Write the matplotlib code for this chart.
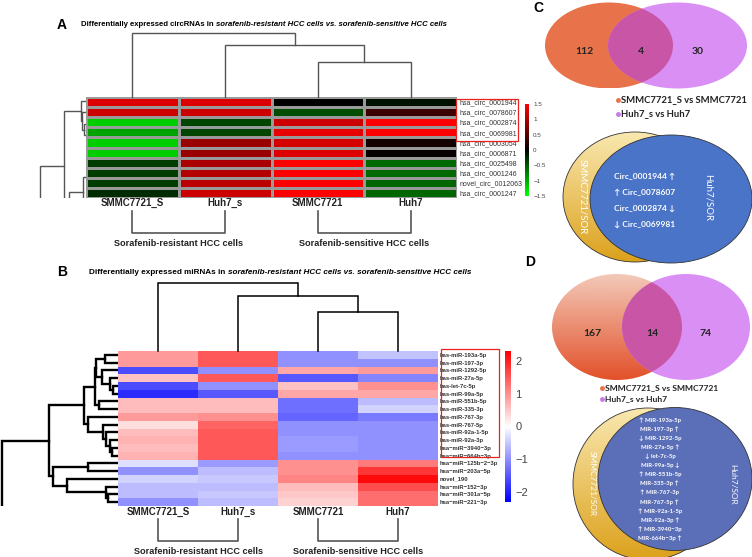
import numpy as np
import matplotlib.pyplot as plt
from matplotlib.colors import LinearSegmentedColormap, to_rgb
from matplotlib.patches import Ellipse, Rectangle

plt.rcParams['font.family'] = ['Liberation Sans', 'DejaVu Sans']

# ---------------- data ----------------
samples = ['SMMC7721_S', 'Huh7_s', 'SMMC7721', 'Huh7']
groups = ['Sorafenib-resistant HCC cells', 'Sorafenib-sensitive HCC cells']

circ_names = ['hsa_circ_0001944', 'hsa_circ_0078607', 'hsa_circ_0002874', 'hsa_circ_0069981',
              'hsa_circ_0003054', 'hsa_circ_0006871', 'hsa_circ_0025498', 'hsa_circ_0001246',
              'novel_circ_0012063', 'hsa_circ_0001247']
circ_vals = np.array([
    [1.30, 1.30, 0.00, -0.10],
    [1.20, 1.20, -0.45, 0.35],
    [-1.20, -0.40, 1.20, 1.50],
    [-0.95, -0.40, 1.35, 1.50],
    [-1.20, 0.90, 1.25, 0.12],
    [-1.20, 0.90, 1.30, 0.04],
    [-0.35, 1.00, 1.50, -0.62],
    [-0.35, 1.05, 1.50, -0.62],
    [-0.35, 1.10, 1.50, -0.60],
    [-0.25, 1.20, 1.50, -0.60],
])

mir_names = ['has-miR-193a-5p', 'has-miR-197-3p', 'has-miR-1292-5p', 'has-miR-27a-5p',
             'has-let-7c-5p', 'has-miR-99a-5p', 'has-miR-551b-5p', 'has-miR-335-3p',
             'has-miR-767-3p', 'has-miR-767-5p', 'has-miR-92a-1-5p', 'has-miR-92a-3p',
             'hsa\u2212miR\u22123940\u22123p', 'hsa\u2212miR\u2212664b\u22123p',
             'hsa\u2212miR\u2212125b\u22122\u22123p', 'hsa\u2212miR\u2212203a\u22125p', 'novel_190',
             'hsa\u2212miR\u2212152\u22123p', 'hsa\u2212miR\u2212301a\u22125p', 'hsa\u2212miR\u2212221\u22123p']
mir_vals = np.array([
    [0.90, 1.50, -1.00, -0.55],
    [0.90, 1.50, -1.00, -1.00],
    [-1.60, -1.00, 0.80, 0.90],
    [0.55, 1.50, -1.50, -1.10],
    [-1.60, -1.00, 0.55, 1.00],
    [-1.90, -1.50, 0.80, 0.80],
    [0.60, 0.60, -1.30, -0.60],
    [0.60, 0.60, -1.30, -0.40],
    [0.90, 1.00, -1.40, -1.20],
    [0.30, 1.40, -1.00, -1.00],
    [0.60, 1.50, -1.00, -1.00],
    [0.70, 1.50, -0.90, -1.00],
    [0.60, 1.50, -0.90, -1.00],
    [0.70, 1.50, -1.00, -1.00],
    [-0.30, -0.90, 1.00, 1.20],
    [-1.00, -0.60, 1.00, 1.80],
    [-0.40, -0.50, 1.10, 2.20],
    [-0.60, -0.60, 0.60, 1.60],
    [-0.60, -0.50, 0.50, 1.30],
    [-1.00, -0.60, 0.40, 1.30],
])

# dendrograms: (child_a, child_b, height); ids >= n_leaves refer to earlier merges
circ_col_tree = [(2, 3, 35), (1, 4, 52), (0, 5, 64)]
circ_row_tree = [(2, 3, 2), (1, 10, 4), (0, 11, 5), (4, 5, 3), (6, 7, 2), (13, 14, 17),
                 (12, 15, 22), (8, 9, 2), (16, 17, 46)]
mir_col_tree = [(2, 3, 39), (1, 4, 55), (0, 5, 68)]
mir_row_tree = [(0, 1, 13), (4, 5, 5), (3, 21, 8), (2, 22, 16), (20, 23, 22), (6, 7, 19),
                (24, 25, 23), (12, 13, 6), (11, 27, 8), (10, 28, 12), (9, 29, 15), (8, 30, 30),
                (26, 31, 34), (14, 15, 30), (18, 19, 10), (17, 34, 12), (16, 35, 51),
                (33, 36, 65), (32, 37, 69)]

venn_c = [112, 4, 30]
venn_d = [167, 14, 74]
legend_labels = ['SMMC7721_S vs SMMC7721', 'Huh7_s vs Huh7']
circ_common = [('Circ_0001944', 'up', 'r'), ('Circ_0078607', 'up', 'l'),
               ('Circ_0002874', 'down', 'r'), ('Circ_0069981', 'down', 'l')]
mir_common = [('MiR-193a-5p', 'up', 'l'), ('MiR-197-3p', 'up', 'r'), ('MiR-1292-5p', 'down', 'l'),
              ('MiR-27a-5p', 'up', 'r'), ('let-7c-5p', 'down', 'l'), ('MiR-99a-5p', 'down', 'r'),
              ('MiR-551b-5p', 'up', 'l'), ('MiR-335-3p', 'up', 'r'), ('MiR-767-3p', 'up', 'l'),
              ('MiR-767-5p', 'up', 'r'), ('MiR-92a-1-5p', 'up', 'l'), ('MiR-92a-3p', 'up', 'r'),
              ('MiR-3940\u22123p', 'up', 'l'), ('MiR-664b\u22123p', 'up', 'r')]

# ---------------- figure ----------------
W, H = 752, 557
fig = plt.figure(figsize=(W / 100, H / 100), dpi=100)


def px_axes(x0, y0, x1, y1, **kw):
    return fig.add_axes([x0 / W, 1 - y1 / H, (x1 - x0) / W, (y1 - y0) / H], **kw)


def px_canvas(x0, y0, x1, y1, **kw):
    a = px_axes(x0, y0, x1, y1, **kw)
    a.set_xlim(x0, x1)
    a.set_ylim(y1, y0)
    a.axis('off')
    a.patch.set_alpha(0)
    return a


ov = px_canvas(0, 0, W, H, zorder=5)
rend = fig.canvas.get_renderer()


def dendro(leaf_pos, merges):
    pos = list(leaf_pos)
    hts = [0.0] * len(leaf_pos)
    segs = []
    for a, b, h in merges:
        segs.append([(hts[a], pos[a]), (h, pos[a]), (h, pos[b]), (hts[b], pos[b])])
        pos.append((pos[a] + pos[b]) / 2)
        hts.append(h)
    return segs, pos[-1], hts[-1]


def mixed_text(x, y, parts, size):
    for s, style in parts:
        t = ov.text(x, y, s, fontsize=size, fontweight='bold', fontstyle=style,
                    va='center', ha='left')
        x += t.get_window_extent(renderer=rend).width


def heat_panel(box, vals, names, cmap, vmin, vmax, grid, label_size, label_weight):
    x0, y0, x1, y1 = box
    nr, nc = vals.shape
    ax = px_axes(x0, y0, x1, y1)
    if grid:
        ax.pcolormesh(vals, cmap=cmap, vmin=vmin, vmax=vmax, edgecolors='#9a9a9a', linewidth=0.9)
    else:
        ax.pcolormesh(vals, cmap=cmap, vmin=vmin, vmax=vmax)
    ax.set_xlim(0, nc)
    ax.set_ylim(nr, 0)
    ax.set_xticks([])
    ax.yaxis.tick_right()
    ax.set_yticks(np.arange(nr) + 0.5)
    ax.set_yticklabels(names, fontsize=label_size, fontweight=label_weight, color='#333333')
    ax.tick_params(axis='y', length=0, pad=1.5)
    for s in ax.spines.values():
        s.set_visible(False)
    col_c = [x0 + (i + 0.5) * (x1 - x0) / nc for i in range(nc)]
    row_c = [y0 + (i + 0.5) * (y1 - y0) / nr for i in range(nr)]
    return col_c, row_c


def col_dendro(col_c, tree, y0, color, lw):
    segs, _, _ = dendro(col_c, tree)
    for sg in segs:
        ov.plot([p[1] for p in sg], [y0 - p[0] for p in sg], color=color, lw=lw,
                solid_joinstyle='miter')


def row_dendro(leaf_y, tree, x0, y0, y1, color, lw, stub_x):
    dax = px_canvas(0, y0, x0, y1, zorder=4)
    segs, ry, rh = dendro(leaf_y, tree)
    for sg in segs:
        dax.plot([x0 - p[0] for p in sg], [p[1] for p in sg], color=color, lw=lw,
                 solid_joinstyle='miter')
    dax.plot([x0 - rh, stub_x, stub_x], [ry, ry, H], color=color, lw=lw,
             solid_joinstyle='miter')


def colorbar(box, cmap, vmin, vmax, ticks, labels, size):
    cax = px_axes(*box)
    cax.imshow(np.linspace(vmax, vmin, 256)[:, None], cmap=cmap, aspect='auto',
               extent=(0, 1, vmin, vmax))
    cax.set_xticks([])
    cax.yaxis.tick_right()
    cax.set_yticks(ticks)
    cax.set_yticklabels(labels, fontsize=size, color='#444444')
    cax.tick_params(axis='y', length=0, pad=3)
    for s in cax.spines.values():
        s.set_visible(False)


def brackets(col_c, y_top, y_bot, y_txt, size):
    for g, (a, b) in enumerate([(0, 1), (2, 3)]):
        ov.plot([col_c[a], col_c[a], col_c[b], col_c[b]], [y_top, y_bot, y_bot, y_top],
                color='#555555', lw=1.2)
        ov.text((col_c[a] + col_c[b]) / 2, y_txt, groups[g], fontsize=size,
                fontweight='bold', ha='center', va='center', color='#222222')


# ---------------- panel A ----------------
ov.text(62, 25, 'A', fontsize=10, fontweight='bold', ha='center', va='center')
mixed_text(81, 24, [('Differentially expressed circRNAs in ', 'normal'),
                    ('sorafenib-resistant HCC cells vs. sorafenib-sensitive HCC cells', 'italic')], 5.6)
gkr = LinearSegmentedColormap.from_list('gkr', ['#00ff00', '#000000', '#ff0000'])
boxA = (86, 97, 457, 198)
colA, rowA = heat_panel(boxA, circ_vals, circ_names, gkr, -1.5, 1.5, True, 5, 'normal')
col_dendro(colA, circ_col_tree, 97, '#555555', 1.0)
# the row tree of panel A is drawn stretched and cut at the heatmap bottom, as in the source
leafA = [101, 112, 124, 135, 177, 207, 237, 267, 297, 327]
row_dendro(leafA, circ_row_tree, 86, 97, 198, '#555555', 1.0, 40)
for i, s in enumerate(samples):
    ov.text(colA[i], 203, s, fontsize=7, fontweight='bold', ha='center', va='center',
            color='#222222')
brackets(colA, 211, 233, 244, 6.6)
ov.add_patch(Rectangle((456, 99), 62, 42, fill=False, ec='#e8231f', lw=0.9))
colorbar((525, 104, 529, 196), gkr, -1.5, 1.5, [1.5, 1, 0.5, 0, -0.5, -1, -1.5],
         ['1.5', '1', '0.5', '0', '\u22120.5', '\u22121', '\u22121.5'], 4.5)

# ---------------- panel B ----------------
ov.text(62, 272, 'B', fontsize=10, fontweight='bold', ha='center', va='center')
mixed_text(89, 273, [('Differentially expressed miRNAs in ', 'normal'),
                     ('sorafenib-resistant HCC cells vs. sorafenib-sensitive HCC cells', 'italic')], 5.9)
bwr = LinearSegmentedColormap.from_list('bw', ['#0000ff', '#ffffff', '#ff0000'])
boxB = (118, 351, 438, 506)
colB, rowB = heat_panel(boxB, mir_vals, mir_names, bwr, -2.3, 2.3, False, 4.2, 'bold')
col_dendro(colB, mir_col_tree, 351, '#000000', 1.1)
row_dendro(rowB, mir_row_tree, 118, 351, 506, '#000000', 1.7, 2)
for i, s in enumerate(samples):
    ov.text(colB[i], 512, s, fontsize=7, fontweight='bold', ha='center', va='center',
            color='#222222')
brackets(colB, 519, 541, 551, 6.6)
ov.add_patch(Rectangle((441, 349), 58, 108, fill=False, ec='#e8231f', lw=0.9))
colorbar((505, 351, 511, 502), bwr, -2.3, 2.3, [2, 1, 0, -1, -2],
         ['2', '1', '0', '\u22121', '\u22122'], 8)

# ---------------- Venn diagrams ----------------
vfont = ['Lato', 'DejaVu Sans']


def gradient_ellipse(cx, cy, w, h, top, bottom, ec=None, z=1):
    e = Ellipse((cx, cy), w, h, fc='none', ec=ec if ec else 'none', lw=0.6, zorder=z + 0.5)
    ov.add_patch(e)
    c0, c1 = np.array(to_rgb(top)), np.array(to_rgb(bottom))
    t = np.linspace(0, 1, 200)[:, None, None]
    img = c0 * (1 - t) + c1 * t
    im = ov.imshow(img, extent=(cx - w / 2, cx + w / 2, cy + h / 2, cy - h / 2),
                   aspect='auto', zorder=z, interpolation='bilinear')
    im.set_clip_path(e)
    return e


def venn_top(left, right, counts, left_top, left_bot):
    el = gradient_ellipse(*left, left_top, left_bot, z=1)
    ov.add_patch(Ellipse(right[:2], right[2], right[3], fc='#da8ff5', ec='none', zorder=2))
    mid = Ellipse(right[:2], right[2], right[3], fc='#c955a6', ec='none', zorder=3)
    ov.add_patch(mid)
    mid.set_clip_path(el)
    xs = [left[0] - 25, (left[0] + left[2] / 2 + right[0] - right[2] / 2) / 2, right[0] + 20]
    for x, c in zip(xs, counts):
        ov.text(x, left[1] + 6, str(c), fontsize=7.5, fontweight='bold', ha='center',
                va='center', family=vfont, color='#222222', zorder=4)


def venn_legend(x, y, dy, size):
    for k, (lab, col) in enumerate(zip(legend_labels, ['#e8734b', '#c77be6'])):
        ov.plot(x, y + dy * k, 'o', ms=2.5, color=col)
        ov.text(x + 3, y + dy * k, lab, fontsize=size, fontweight='bold', family=vfont,
                ha='left', va='center', color='#222222')


def venn_bottom(gold, blue, bcol, items, xc, y0, dy, size, lx, rx, tsize):
    gradient_ellipse(*gold, '#f9e8b0', '#dca11c', ec='#333333', z=1)
    ov.add_patch(Ellipse(blue[:2], blue[2], blue[3], fc=bcol, ec='#333333', lw=0.6, zorder=3))
    ov.text(lx, gold[1], 'SMMC7721/SOR', rotation=-90, color='white', fontsize=tsize,
            family=vfont, ha='center', va='center', zorder=4)
    ov.text(rx, gold[1], 'Huh7/SOR', rotation=-90, color='white', fontsize=tsize,
            family=vfont, ha='center', va='center', zorder=4)
    for i, (name, d, side) in enumerate(items):
        arr = '\u2191' if d == 'up' else '\u2193'
        s = arr + ' ' + name if side == 'l' else name + ' ' + arr
        ov.text(xc, y0 + i * dy, s, color='white', fontsize=size, fontweight='bold',
                family=vfont, ha='center', va='center', zorder=4)


ov.text(538, 8, 'C', fontsize=10, fontweight='bold', ha='center', va='center')
venn_top((609, 45.5, 128, 86), (677.5, 45.5, 139, 86), venn_c, '#e8734b', '#e8734b')
venn_legend(618, 100, 14, 6.8)
venn_bottom((635, 197, 144, 130), (671, 199, 162, 128), '#4a74c8', circ_common,
            645, 177, 15.7, 6, 583, 708, 6.9)

ov.text(530, 262, 'D', fontsize=10, fontweight='bold', ha='center', va='center')
venn_top((617, 327, 130, 106), (686, 327, 128, 106), venn_d, '#f3c9b8', '#e2512a')
venn_legend(602, 388, 10.5, 6.1)
venn_bottom((648, 484, 150, 152), (675, 479, 154, 143), '#5b6fb8', mir_common,
            660, 420, 9.08, 4.3, 592, 733, 6)

fig.savefig('out.png', dpi=100)
